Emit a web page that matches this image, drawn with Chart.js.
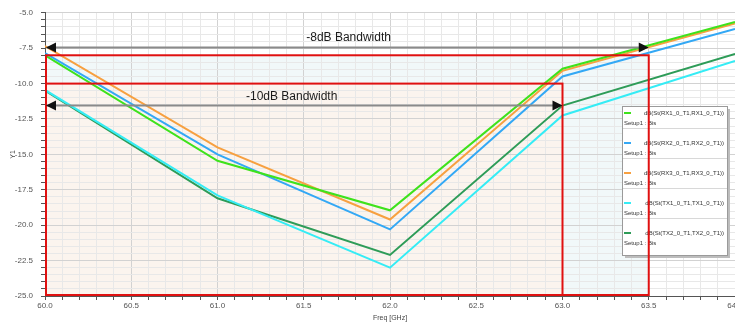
<!DOCTYPE html>
<html>
<head>
<meta charset="utf-8">
<script src="https://cdn.jsdelivr.net/npm/chart.js@4.4.1/dist/chart.umd.min.js"></script>
<style>
  html, body { margin: 0; padding: 0; background: #fff; }
  #wrap { position: relative; width: 735px; height: 324px; }
</style>
</head>
<body>
<div id="wrap"><canvas id="chart"></canvas></div>
<script>
// frequency points [GHz]
const freqs = [60, 61, 62, 63, 64];

// S-parameter curves [dB]
const rx1 = [-8.0, -15.45, -18.95, -8.95, -5.65];
const rx2 = [-7.85, -15.0, -20.3, -9.5, -6.15];
const rx3 = [-7.35, -14.5, -19.6, -9.1, -5.75];
const tx1 = [-10.45, -17.9, -23.0, -12.25, -8.4];
const tx2 = [-10.5, -18.1, -22.1, -11.55, -7.9];

const seriesLabels = [
  'dB(St(RX1_0_T1,RX1_0_T1))',
  'dB(St(RX2_0_T1,RX2_0_T1))',
  'dB(St(RX3_0_T1,RX3_0_T1))',
  'dB(St(TX1_0_T1,TX1_0_T1))',
  'dB(St(TX2_0_T1,TX2_0_T1))'
];
const setupLabel = 'Setup1 : Bis';
const seriesColors = ['#3ee21c', '#33a8f5', '#f7a040', '#35ecf5', '#2e9c58'];

// bandwidth boxes: [xMin, xMax, yMin, yMax]
const box8dB = [60, 63.5, -25, -8];
const box10dB = [60, 63, -25, -10];

// bandwidth arrows and their captions
const arrowY = [-7.4, -11.5];
const arrowFrom = [60, 60];
const arrowTo = [63.5, 63.0];
const captionText = ['-8dB Bandwidth', '-10dB Bandwidth'];
const captionX = [61.76, 61.43];
const captionY = [-6.75, -10.9];

const allSeries = [rx1, rx2, rx3, tx1, tx2];

const isMajorX = v => Math.round(v * 10) % 5 === 0;
const isMajorY = v => Math.round(v * 2) % 5 === 0;

// light shading behind the boxes (drawn under the grid)
const shadePlugin = {
  id: 'shade',
  beforeDraw(chart) {
    const { ctx, scales: { x, y } } = chart;
    ctx.save();
    ctx.fillStyle = '#f1f8f9';
    ctx.fillRect(x.getPixelForValue(box8dB[0]), y.getPixelForValue(box8dB[3]),
      x.getPixelForValue(box8dB[1]) - x.getPixelForValue(box8dB[0]),
      y.getPixelForValue(box8dB[2]) - y.getPixelForValue(box8dB[3]));
    ctx.fillStyle = '#fbf4ee';
    ctx.fillRect(x.getPixelForValue(box10dB[0]), y.getPixelForValue(box10dB[3]),
      x.getPixelForValue(box10dB[1]) - x.getPixelForValue(box10dB[0]),
      y.getPixelForValue(box10dB[2]) - y.getPixelForValue(box10dB[3]));
    ctx.restore();
  }
};

// legend box like the simulator's, drawn before the red boxes
const legendPlugin = {
  id: 'hfssLegend',
  afterDatasetsDraw(chart) {
    const ctx = chart.ctx;
    const left = 622, top = 106, w = 105, h = 149;
    ctx.save();
    ctx.fillStyle = '#bdbdbd';
    ctx.fillRect(left + 3, top + 3, w, h);
    ctx.fillStyle = '#ffffff';
    ctx.fillRect(left, top, w, h);
    ctx.strokeStyle = '#9a9a9a';
    ctx.lineWidth = 1;
    ctx.strokeRect(left + 0.5, top + 0.5, w, h);
    ctx.font = '6px "Liberation Sans", Arial, sans-serif';
    ctx.textBaseline = 'middle';
    chart.data.datasets.forEach((ds, i) => {
      const rowY = top + 7 + i * 30;
      ctx.strokeStyle = ds.borderColor;
      ctx.lineWidth = 2;
      ctx.beginPath();
      ctx.moveTo(left + 2, rowY);
      ctx.lineTo(left + 9, rowY);
      ctx.stroke();
      ctx.fillStyle = '#333';
      ctx.textAlign = 'right';
      ctx.fillText(ds.label, left + w - 3, rowY);
      ctx.textAlign = 'left';
      ctx.fillText(setupLabel, left + 2, rowY + 10);
      if (i > 0) {
        ctx.strokeStyle = '#d8d8d8';
        ctx.lineWidth = 1;
        ctx.beginPath();
        ctx.moveTo(left + 1, rowY - 14.5);
        ctx.lineTo(left + w, rowY - 14.5);
        ctx.stroke();
      }
    });
    ctx.restore();
  }
};

// red boxes, arrows and captions
const markupPlugin = {
  id: 'markup',
  afterDraw(chart) {
    const { ctx, scales: { x, y } } = chart;
    ctx.save();
    ctx.strokeStyle = '#e01010';
    ctx.lineWidth = 2;
    [box8dB, box10dB].forEach(b => {
      const x0 = x.getPixelForValue(b[0]), x1 = x.getPixelForValue(b[1]);
      const y0 = y.getPixelForValue(b[3]), y1 = y.getPixelForValue(b[2]);
      ctx.strokeRect(x0 + 1, y0, x1 - x0 - 1, y1 - y0 - 1);
    });

    arrowY.forEach((v, i) => {
      const py = Math.round(y.getPixelForValue(v)) + 0.5;
      const xa = x.getPixelForValue(arrowFrom[i]);
      const xb = x.getPixelForValue(arrowTo[i]);
      ctx.strokeStyle = '#8a8a8a';
      ctx.lineWidth = 2;
      ctx.beginPath();
      ctx.moveTo(xa + 2, py);
      ctx.lineTo(xb - 2, py);
      ctx.stroke();
      ctx.fillStyle = '#111';
      ctx.beginPath();
      ctx.moveTo(xa + 1, py);
      ctx.lineTo(xa + 11, py - 5);
      ctx.lineTo(xa + 11, py + 5);
      ctx.closePath();
      ctx.fill();
      ctx.beginPath();
      ctx.moveTo(xb, py);
      ctx.lineTo(xb - 10, py - 5);
      ctx.lineTo(xb - 10, py + 5);
      ctx.closePath();
      ctx.fill();
    });

    ctx.fillStyle = '#1a1a1a';
    ctx.font = '12px "Liberation Sans", Arial, sans-serif';
    ctx.textAlign = 'center';
    ctx.textBaseline = 'middle';
    captionText.forEach((t, i) => {
      ctx.fillText(t, x.getPixelForValue(captionX[i]), y.getPixelForValue(captionY[i]));
    });
    ctx.restore();
  }
};

const ctx = document.getElementById('chart').getContext('2d');
new Chart(ctx, {
  type: 'line',
  data: {
    datasets: allSeries.map((vals, i) => ({
      label: seriesLabels[i],
      data: freqs.map((f, j) => ({ x: f, y: vals[j] })),
      borderColor: seriesColors[i],
      borderWidth: 2,
      pointRadius: 0,
      tension: 0,
      fill: false
    }))
  },
  options: {
    responsive: true,
    maintainAspectRatio: false,
    animation: false,
    layout: { padding: { top: 11, right: 0, left: 0, bottom: 0 } },
    plugins: {
      legend: { display: false },
      tooltip: { enabled: false }
    },
    scales: {
      x: {
        type: 'linear',
        min: 60,
        max: 64,
        border: { color: '#555', width: 1 },
        ticks: {
          stepSize: 0.1,
          autoSkip: false,
          maxRotation: 0,
          padding: 1,
          color: '#555',
          font: { size: 8, family: '"Liberation Sans", Arial, sans-serif' },
          callback: v => isMajorX(v) ? v.toFixed(1) : ''
        },
        grid: {
          color: c => isMajorX(c.tick.value) ? '#d2d2d2' : '#e8e8e8',
          tickColor: '#555',
          tickLength: 4
        },
        title: {
          display: true,
          text: 'Freq [GHz]',
          color: '#444',
          font: { size: 7, family: '"Liberation Sans", Arial, sans-serif' },
          padding: { top: 0, bottom: 2 }
        },
        afterFit: s => { s.height = 28; s.paddingLeft = 0; s.paddingRight = 0; }
      },
      y: {
        type: 'linear',
        min: -25,
        max: -5,
        border: { color: '#555', width: 1 },
        ticks: {
          stepSize: 0.5,
          autoSkip: false,
          padding: 8,
          color: '#555',
          font: { size: 8, family: '"Liberation Sans", Arial, sans-serif' },
          callback: v => isMajorY(v) ? v.toFixed(1) : ''
        },
        grid: {
          color: c => isMajorY(c.tick.value) ? '#d2d2d2' : '#e8e8e8',
          tickColor: '#555',
          tickLength: 4
        },
        title: {
          display: true,
          text: 'Y1',
          color: '#444',
          font: { size: 7, family: '"Liberation Sans", Arial, sans-serif' },
          padding: { top: 9, bottom: 0 }
        },
        afterFit: s => { s.width = 45; }
      }
    }
  },
  plugins: [shadePlugin, legendPlugin, markupPlugin]
});
</script>
</body>
</html>
